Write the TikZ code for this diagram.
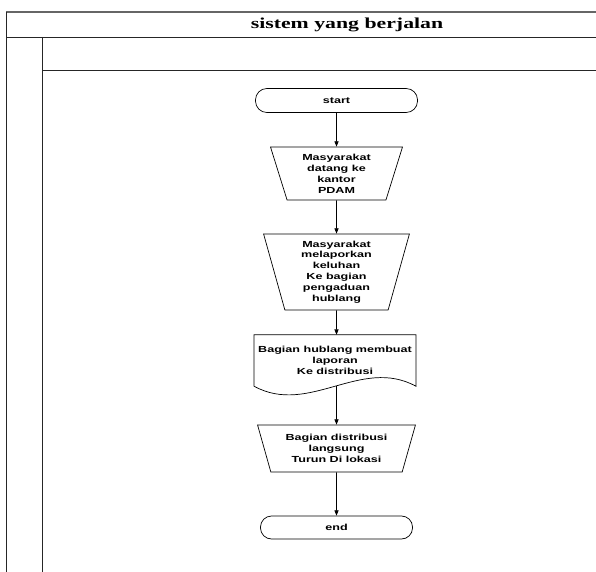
\documentclass[tikz,border=0pt]{standalone}
\usepackage{fontspec}
\setmainfont{Liberation Serif}
\newfontfamily\flowfont[FakeStretch=1.43]{Liberation Sans}
\newfontfamily\headfont[FakeStretch=1.43]{Liberation Serif}
\usetikzlibrary{arrows.meta,positioning,shapes.geometric}

\begin{document}
\begin{tikzpicture}[x=0.03cm, y=-0.03cm,
      lane/.style={line width=0.8pt, black!85},
      terminal/.style={draw, rounded corners=0.34cm, minimum height=0.72cm,
                       font=\flowfont\bfseries\fontsize{7.5}{9.3}\selectfont, line width=0.6pt},
      manual/.style={draw, trapezium, shape border rotate=180, trapezium stretches=true,
                     align=center, line width=0.6pt, inner sep=1pt,
                     font=\flowfont\bfseries\fontsize{7.5}{9.3}\selectfont},
      docbox/.style={minimum width=4.8cm, minimum height=1.53cm, align=center,
                     font=\flowfont\bfseries\fontsize{7.5}{9.3}\selectfont},
      arr/.style={-{Triangle[length=4.5pt, width=3.5pt]}, line width=0.6pt}
    ]
      \useasboundingbox (0,0) rectangle (596,572);

      % Swimlane
      \draw[lane, black!60, line width=1pt] (6,12) -- (596,12);
      \draw[lane] (6,12) -- (6,572);
      \draw[lane] (6,37) -- (596,37);
      \draw[lane] (42,37) -- (42,572);
      \draw[lane] (42,70) -- (596,70);
      \node[font=\headfont\bfseries\fontsize{13}{15}\selectfont] (title) at (347,24.5) {sistem yang berjalan};

      % Flow
      \node[terminal, minimum width=4.86cm] (start) at (336.5,100.5) {start};
      \node[manual, minimum width=3.99cm, minimum height=1.59cm,
            trapezium left angle=74, trapezium right angle=74] (datang) at (336.5,173.5)
            {Masyarakat\\datang ke\\kantor\\PDAM};
      \node[manual, minimum width=4.41cm, minimum height=2.28cm,
            trapezium left angle=77, trapezium right angle=77] (lapor) at (336.5,272)
            {Masyarakat\\melaporkan\\keluhan\\Ke bagian\\pengaduan\\hublang};
      \node[docbox] (laporan) at (335,360.5)
            {Bagian hublang membuat\\laporan\\Ke distribusi};
      \draw[line width=0.6pt] (laporan.north west) -- (laporan.south west)
            .. controls +(55,30) and +(-55,-30) .. (laporan.south east)
            -- (laporan.north east) -- cycle;
      \node[manual, minimum width=4.74cm, minimum height=1.41cm,
            trapezium left angle=71, trapezium right angle=71] (turun) at (336.5,448.5)
            {Bagian distribusi\\langsung\\Turun Di lokasi};
      \node[terminal, minimum width=4.56cm, minimum height=0.69cm, rounded corners=0.33cm] (end) at (336.5,527.5) {end};

      \draw[arr] (start) -- (datang);
      \draw[arr] (datang) -- (lapor);
      \draw[arr] (lapor) -- (lapor |- laporan.north);
      \draw[arr] (lapor |- laporan.south) -- (turun);
      \draw[arr] (turun) -- (end);
    \end{tikzpicture}
\end{document}
